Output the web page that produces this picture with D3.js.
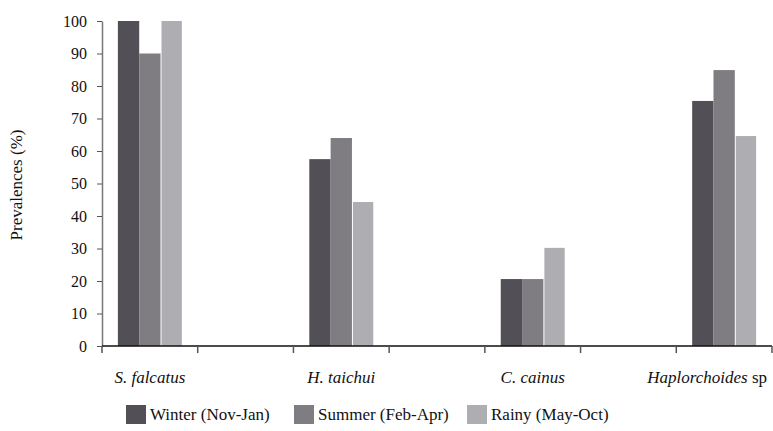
<!DOCTYPE html>
<html><head><meta charset="utf-8">
<script src="https://cdn.jsdelivr.net/npm/d3@7"></script>
<style>body{margin:0;background:#fff}svg{display:block}
svg text{font-family:"Liberation Serif","Times New Roman",serif;}</style>
</head><body>
<svg id="c" width="773" height="431"></svg>
<script>
const categories = ["S. falcatus", "", "H. taichui", "", "C. cainus", "", "Haplorchoides"];
const seriesNames = ["Winter (Nov-Jan)", "Summer (Feb-Apr)", "Rainy (May-Oct)"];
const winter = [100, null, 57.5, null, 20.6, null, 75.4];
const summer = [90, null, 64, null, 20.6, null, 84.9];
const rainy  = [100, null, 44.3, null, 30.2, null, 64.6];
const yTicks = [0,10,20,30,40,50,60,70,80,90,100];
const colors = ["#525056", "#807d82", "#aeaeb2"];

const svg = d3.select("#c");
const font = "Liberation Serif";
const m = {l:102, r:1, t:21, b:85};
const W = 773, H = 431;
const x = d3.scaleBand().domain(d3.range(categories.length)).range([m.l, W - m.r]).paddingInner(0).paddingOuter(0);
const y = d3.scaleLinear().domain([0,100]).range([346, 21]);
const xs = d3.scaleBand().domain(d3.range(3)).range([0, x.bandwidth()]).paddingOuter(0.745).paddingInner(0);

const series = [winter, summer, rainy];
series.forEach((vals, si) => {
  svg.append("g").selectAll("rect")
    .data(vals.map((v,i)=>({v,i})).filter(d=>d.v!=null))
    .join("rect")
    .attr("x", d => x(d.i) + xs(si) + (si===2?1:0))
    .attr("y", d => y(d.v))
    .attr("width", xs.bandwidth() - (si===2?1:0))
    .attr("height", d => y(0) - y(d.v))
    .attr("fill", colors[si]);
});

// y axis
const ya = svg.append("g").attr("transform", `translate(${m.l},0)`)
  .call(d3.axisLeft(y).tickValues(yTicks).tickSize(5).tickPadding(10).tickSizeOuter(0));
ya.attr("font-family", null);
ya.select(".domain").attr("stroke", "#777").attr("stroke-width", 1.5);
ya.selectAll(".tick line").attr("stroke", "#555");
ya.selectAll("text").style("font-family", font).style("font-size", "16px").attr("fill", "#111");

// x axis
const edges = d3.range(categories.length + 1).map(i => m.l + i * x.step());
const xa = svg.append("g");
xa.append("line").attr("x1", m.l).attr("x2", W - m.r).attr("y1", y(0)).attr("y2", y(0)).attr("stroke", "#111").attr("stroke-width", 1.5);
xa.selectAll("line.t").data(edges).join("line").attr("class","t")
  .attr("x1", d=>d).attr("x2", d=>d).attr("y1", y(0)).attr("y2", y(0)+7)
  .attr("stroke", "#555").attr("stroke-width", 1.5);

const lab = svg.append("g").style("font-family", font).style("font-size", "17px").attr("fill", "#111");
categories.forEach((c, i) => {
  if (!c) return;
  const t = lab.append("text").attr("x", x(i) + x.bandwidth()/2).attr("y", 383).attr("text-anchor", "middle");
  t.append("tspan").attr("font-style", "italic").text(c);
  if (c === "Haplorchoides") {
    t.append("tspan").text(" sp");
    t.attr("text-anchor", "end").attr("x", W - 6);
  }
});

// y label
svg.append("text").attr("transform", "translate(22,185) rotate(-90)")
  .attr("text-anchor", "middle").style("font-family", font).style("font-size", "17px").attr("fill", "#111")
  .text("Prevalences (%)");

// legend
const legX = [126, 294, 467];
const lg = svg.append("g");
seriesNames.forEach((n, i) => {
  lg.append("rect").attr("x", legX[i]).attr("y", 405).attr("width", 20).attr("height", 19).attr("fill", colors[i]);
  lg.append("text").attr("x", legX[i] + 24).attr("y", 420).style("font-family", font).style("font-size", "17px").attr("fill", "#111").text(n);
});
</script>
</body></html>
